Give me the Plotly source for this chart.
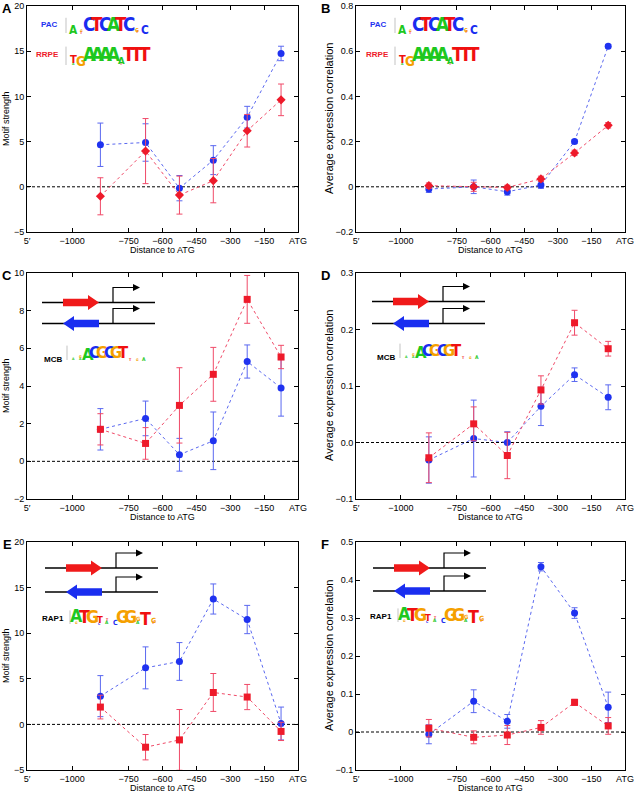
import plotly.graph_objects as go

W, H = 637, 796

# ---------------- data ----------------
positions = [-875, -675, -525, -375, -225, -75]
x_tickvals = [-1200, -1000, -750, -600, -450, -300, -150, 0]
x_ticktext = ["5′", "−1000", "−750", "−600", "−450", "−300", "−150", "ATG"]

# Panel A: motif strength, PAC (blue) / RRPE (red)
a_blue = [4.65, 4.9, -0.15, 2.95, 7.7, 14.75]
a_blue_err = [2.4, 2.07, 1.4, 1.6, 1.2, 0.8]
a_red = [-1.05, 3.95, -0.92, 0.68, 6.2, 9.62]
a_red_err = [2.05, 3.6, 2.1, 2.45, 1.8, 1.75]

# Panel B: average expression correlation, PAC / RRPE
b_blue = [-0.01, 0.0, -0.022, 0.008, 0.2, 0.622]
b_blue_err = [0.015, 0.03, 0.015, 0.015, 0.008, 0.008]
b_red = [0.005, 0.0, -0.003, 0.035, 0.15, 0.272]
b_red_err = [0.012, 0.02, 0.01, 0.012, 0.012, 0.012]

# Panel C: motif strength, MCB
c_blue = [1.7, 2.28, 0.35, 1.09, 5.3, 3.9]
c_blue_err = [1.1, 0.92, 0.87, 1.53, 0.88, 1.5]
c_red = [1.7, 0.95, 2.97, 4.62, 8.6, 5.54]
c_red_err = [0.83, 0.84, 2.0, 1.43, 1.27, 0.62]

# Panel D: average expression correlation, MCB
d_blue = [-0.031, 0.007, 0.0, 0.064, 0.12, 0.08]
d_blue_err = [0.041, 0.068, 0.019, 0.034, 0.012, 0.022]
d_red = [-0.027, 0.033, -0.023, 0.093, 0.212, 0.166]
d_red_err = [0.044, 0.03, 0.041, 0.025, 0.022, 0.013]

# Panel E: motif strength, RAP1
e_blue = [3.1, 6.2, 6.9, 13.75, 11.5, 0.1]
e_blue_err = [2.25, 2.3, 2.07, 1.65, 1.55, 1.8]
e_red = [1.9, -2.5, -1.7, 3.5, 3.0, -0.77]
e_red_err = [1.3, 1.39, 3.33, 2.08, 1.38, 1.0]

# Panel F: average expression correlation, RAP1
f_blue = [-0.006, 0.081, 0.028, 0.435, 0.313, 0.065]
f_blue_err = [0.025, 0.03, 0.018, 0.011, 0.014, 0.04]
f_red = [0.01, -0.014, -0.008, 0.012, 0.078, 0.016]
f_red_err = [0.023, 0.017, 0.025, 0.018, 0.008, 0.022]

y_ranges = {
    "A": [-5, 20], "B": [-0.2, 0.8], "C": [-2, 10],
    "D": [-0.1, 0.3], "E": [-5, 20], "F": [-0.1, 0.5],
}
y_tickvals = {
    "A": [-5, 0, 5, 10, 15, 20],
    "B": [-0.2, 0, 0.2, 0.4, 0.6, 0.8],
    "C": [-2, 0, 2, 4, 6, 8, 10],
    "D": [-0.1, 0, 0.1, 0.2, 0.3],
    "E": [-5, 0, 5, 10, 15, 20],
    "F": [-0.1, 0, 0.1, 0.2, 0.3, 0.4, 0.5],
}
y_ticktext = {
    "A": ["−5", "0", "5", "10", "15", "20"],
    "B": ["−0.2", "0", "0.2", "0.4", "0.6", "0.8"],
    "C": ["−2", "0", "2", "4", "6", "8", "10"],
    "D": ["−0.1", "0.0", "0.1", "0.2", "0.3"],
    "E": ["−5", "0", "5", "10", "15", "20"],
    "F": ["−0.1", "0", "0.1", "0.2", "0.3", "0.4", "0.5"],
}
y_titles = {
    "A": "Motif strength", "B": "Average expression correlation",
    "C": "Motif strength", "D": "Average expression correlation",
    "E": "Motif strength", "F": "Average expression correlation",
}
x_title = "Distance to ATG"

series = {
    "A": (a_blue, a_blue_err, a_red, a_red_err, "diamond"),
    "B": (b_blue, b_blue_err, b_red, b_red_err, "diamond"),
    "C": (c_blue, c_blue_err, c_red, c_red_err, "square"),
    "D": (d_blue, d_blue_err, d_red, d_red_err, "square"),
    "E": (e_blue, e_blue_err, e_red, e_red_err, "square"),
    "F": (f_blue, f_blue_err, f_red, f_red_err, "square"),
}

# ---------------- style ----------------
BLUE = "#1f32f0"
RED = "#ee1a2a"
BLUE_L = "#5a68f0"
RED_L = "#f04a68"
FONT = "Liberation Sans, Arial, Helvetica, sans-serif"
LOGO_FONT = "Liberation Sans Narrow, DejaVu Sans Condensed, Arial Narrow, sans-serif"
LCOL = {"A": "#1ec81e", "C": "#1a2cf0", "G": "#f5a000", "T": "#f01010"}

# frame boxes in pixels: left, top, right, bottom
frames = {
    "A": (27, 6, 298, 232), "B": (356, 6, 625, 232),
    "C": (27, 273, 298, 499), "D": (356, 273, 625, 499),
    "E": (27, 542, 298, 770), "F": (356, 542, 625, 770),
}


def X(px):
    return px / W


def Y(py):
    return 1 - py / H


fig = go.Figure()
shapes = []
annotations = []
layout_axes = {}

for i, key in enumerate(["A", "B", "C", "D", "E", "F"], start=1):
    l, t, r, b = frames[key]
    xn = "x" if i == 1 else f"x{i}"
    yn = "y" if i == 1 else f"y{i}"
    xa = "xaxis" if i == 1 else f"xaxis{i}"
    ya = "yaxis" if i == 1 else f"yaxis{i}"
    common = dict(showline=True, linecolor="black", linewidth=1, mirror="ticks",
                  ticks="inside", ticklen=4, tickcolor="black", tickwidth=1,
                  showgrid=False, zeroline=False, automargin=False,
                  tickfont=dict(family=FONT, size=9, color="black"))
    layout_axes[xa] = dict(domain=[X(l), X(r)], anchor=yn, range=[-1200, 0],
                           tickmode="array", tickvals=x_tickvals,
                           ticktext=x_ticktext, **common)
    layout_axes[ya] = dict(domain=[Y(b), Y(t)], anchor=xn, range=y_ranges[key],
                           tickmode="array", tickvals=y_tickvals[key],
                           ticktext=y_ticktext[key], **common)

    bv, be, rv, re_, rsym = series[key]
    fig.add_trace(go.Scatter(
        x=positions, y=bv, xaxis=xn, yaxis=yn, mode="lines+markers",
        line=dict(color=BLUE_L, width=1, dash="dot"),
        marker=dict(symbol="circle", size=7, color=BLUE),
        error_y=dict(type="data", array=be, color=BLUE_L, thickness=1, width=3),
        showlegend=False, hoverinfo="skip"))
    fig.add_trace(go.Scatter(
        x=positions, y=rv, xaxis=xn, yaxis=yn, mode="lines+markers",
        line=dict(color=RED_L, width=1, dash="dot"),
        marker=dict(symbol=rsym, size=7, color=RED),
        error_y=dict(type="data", array=re_, color=RED_L, thickness=1, width=3),
        showlegend=False, hoverinfo="skip"))

    # zero reference line
    shapes.append(dict(type="line", xref=f"{xn} domain", yref=yn, x0=0, x1=1,
                       y0=0, y1=0, line=dict(color="black", width=1, dash="3px,2px"),
                       layer="below"))

    # axis titles
    annotations.append(dict(text=x_title, x=X((l + r) / 2), y=Y(b + 18),
                            xref="paper", yref="paper", showarrow=False,
                            font=dict(family=FONT, size=9, color="black"),
                            xanchor="center", yanchor="middle"))
    left_col = l < 100
    tx = 6 if left_col else 329
    annotations.append(dict(text=y_titles[key], x=X(tx), y=Y((t + b) / 2),
                            xref="paper", yref="paper", showarrow=False,
                            textangle=-90,
                            font=dict(family=FONT, size=9 if left_col else 11,
                                      color="black"),
                            xanchor="center", yanchor="middle"))
    # panel letter
    annotations.append(dict(text=f"<b>{key}</b>", x=X(7 if left_col else 325),
                            y=Y(t + 2), xref="paper", yref="paper",
                            showarrow=False,
                            font=dict(family=FONT, size=13, color="black"),
                            xanchor="center", yanchor="middle"))


# ---------------- sequence logos (letters as text) ----------------
pac_logo = [[("A", 0.45)], [("T", 0.08), ("G", 0.12)], [("C", 1)], [("T", 1)],
            [("C", 1)], [("A", 1)], [("T", 1)], [("C", 1)],
            [("T", 0.1), ("G", 0.2)], [("C", 0.45)]]
rrpe_logo = [[("A", 0.1), ("T", 0.35)], [("G", 0.42)], [("A", 1)], [("A", 1)],
             [("A", 1)], [("A", 1)], [("T", 0.1), ("A", 0.3)], [("T", 1)],
             [("T", 1)], [("T", 1)]]
mcb_logo = [[("A", 0.12)], [("A", 0.1), ("G", 0.15)], [("A", 0.75)], [("C", 1)],
            [("G", 1)], [("C", 1)], [("G", 1)], [("T", 1)], [("T", 0.05)],
            [("G", 0.05)], [("A", 0.2)]]
rap1_logo = [[("G", 0.15), ("A", 0.75)], [("T", 1)], [("G", 1)],
             [("C", 0.08), ("T", 0.4)], [("A", 0.2), ("T", 0.08)], [("C", 0.3)],
             [("G", 1)], [("G", 1)], [("A", 0.2), ("G", 0.25)], [("T", 0.85)],
             [("T", 0.1), ("G", 0.3)]]


def add_logo(label, label_color, label_xy, logo, x0, x1, base, full_h):
    annotations.append(dict(text=f"<b>{label}</b>", x=X(label_xy[0]),
                            y=Y(label_xy[1]), xref="paper", yref="paper",
                            showarrow=False, xanchor="center", yanchor="middle",
                            font=dict(family=FONT, size=8, color=label_color)))
    # small bits axis
    shapes.append(dict(type="line", xref="paper", yref="paper",
                       x0=X(x0 - 3), x1=X(x0 - 3), y0=Y(base), y1=Y(base - full_h * 0.8),
                       line=dict(color="#9a9a9a", width=0.6)))
    slot = (x1 - x0) / len(logo)
    cap = slot * 1.4 / 0.6
    for j, stack in enumerate(logo):
        cx = x0 + slot * (j + 0.5)
        cum = 0.0
        for letter, frac in stack:
            h = frac * full_h
            size = max(3.5, min(h / 0.72, cap))
            cy = base - cum - h / 2
            annotations.append(dict(text=f"<b>{letter}</b>", x=X(cx),
                                    y=Y(cy + size * 0.08), xref="paper",
                                    yref="paper", showarrow=False,
                                    xanchor="center", yanchor="middle",
                                    font=dict(family=LOGO_FONT, size=size,
                                              color=LCOL[letter])))
            cum += h


for key in ["A", "B"]:
    l, t, r, b = frames[key]
    add_logo("PAC", BLUE, (l + 22, t + 19), pac_logo, l + 42, l + 122, t + 27, 19)
    add_logo("RRPE", RED, (l + 21, t + 48), rrpe_logo, l + 42, l + 122, t + 59, 23)

for key, dx, dy in [("C", 43, 87), ("D", 47, 85)]:
    l, t, r, b = frames[key]
    add_logo("MCB", "black", (l + dx - 17, t + dy - 1), mcb_logo, l + dx,
             l + dx + 78, t + dy, 18)

for key, dx, dy in [("E", 46, 82), ("F", 45, 80)]:
    l, t, r, b = frames[key]
    add_logo("RAP1", "black", (l + dx - 20, t + dy - 6), rap1_logo, l + dx,
             l + dx + 84, t + dy, 17)


# ---------------- strand / promoter diagrams ----------------
def poly(points):
    return "M " + " L ".join(f"{X(px):.5f},{Y(py):.5f}" for px, py in points) + " Z"


def add_diagram(l, t, x0, ytop, gap):
    x_s, x_e = l + x0, l + x0 + 113
    y1 = t + ytop
    y2 = y1 + gap
    for yy in (y1, y2):
        shapes.append(dict(type="line", xref="paper", yref="paper",
                           x0=X(x_s), x1=X(x_e), y0=Y(yy), y1=Y(yy),
                           line=dict(color="black", width=1.5)))
        # bent promoter arrow
        bx = x_s + 71
        top = yy - 15
        shapes.append(dict(type="path", xref="paper", yref="paper",
                           path=f"M {X(bx):.5f},{Y(yy):.5f} L {X(bx):.5f},{Y(top):.5f} "
                                f"L {X(x_s + 92):.5f},{Y(top):.5f}",
                           line=dict(color="black", width=1.2)))
        shapes.append(dict(type="path", xref="paper", yref="paper",
                           path=poly([(x_s + 91, top - 3.5), (x_s + 98, top),
                                      (x_s + 91, top + 3.5)]),
                           fillcolor="black", line=dict(width=0)))
    # red forward arrow
    shapes.append(dict(type="path", xref="paper", yref="paper",
                       path=poly([(x_s + 21, y1 - 3.8), (x_s + 46, y1 - 3.8),
                                  (x_s + 46, y1 - 7.5), (x_s + 57, y1),
                                  (x_s + 46, y1 + 7.5), (x_s + 46, y1 + 3.8),
                                  (x_s + 21, y1 + 3.8)]),
                       fillcolor="#f01a1a", line=dict(width=0)))
    # blue reverse arrow
    shapes.append(dict(type="path", xref="paper", yref="paper",
                       path=poly([(x_s + 57, y2 - 3.8), (x_s + 32, y2 - 3.8),
                                  (x_s + 32, y2 - 7.5), (x_s + 21, y2),
                                  (x_s + 32, y2 + 7.5), (x_s + 32, y2 + 3.8),
                                  (x_s + 57, y2 + 3.8)]),
                       fillcolor="#1a2ef0", line=dict(width=0)))


for key, x0, ytop, gap in [("C", 15, 29.5, 21), ("D", 16, 28.5, 22),
                           ("E", 18, 26, 24), ("F", 17, 26, 23)]:
    l, t, r, b = frames[key]
    add_diagram(l, t, x0, ytop, gap)

fig.update_layout(
    width=W, height=H, margin=dict(l=0, r=0, t=0, b=0),
    paper_bgcolor="white", plot_bgcolor="white",
    font=dict(family=FONT, size=9, color="black"),
    shapes=shapes, annotations=annotations, showlegend=False,
    hovermode=False,
    **layout_axes)

fig.write_html(
    "out.html",
    config={"displayModeBar": False, "staticPlot": True},
    post_script="document.body.style.margin='0';document.body.style.padding='0';"
                "document.body.style.overflow='hidden';")
